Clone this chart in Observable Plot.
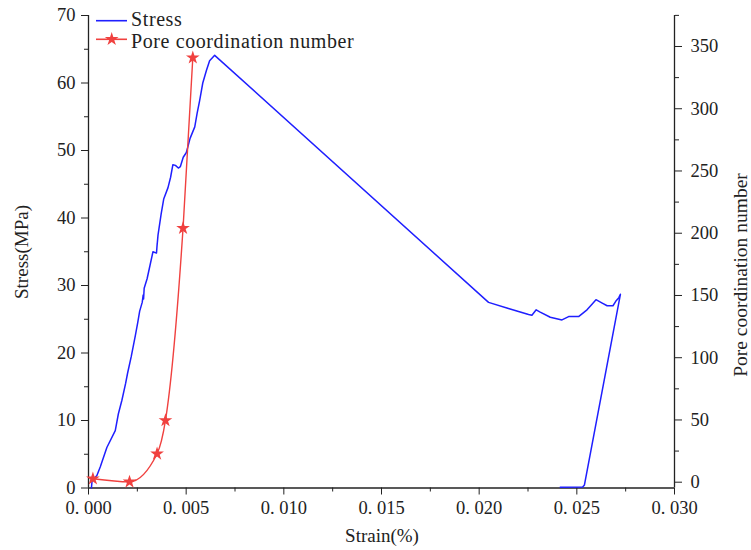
<!DOCTYPE html>
<html><head><meta charset="utf-8">
<script src="https://cdn.jsdelivr.net/npm/d3@7"></script>
<script src="https://cdn.jsdelivr.net/npm/@observablehq/plot@0.6"></script>
<style>
body{margin:0;background:#fff;}
#wrap{position:relative;width:751px;height:550px;font-family:"Liberation Serif","Times New Roman","DejaVu Serif",serif;color:#222;}
.lbl{position:absolute;white-space:nowrap;font-size:19px;}
</style></head><body><div id="wrap"></div>
<script>
// Stress–strain curve (blue)
const stressStrain = [0.00015,0.00018,0.00025,0.00043,0.00060,0.00094,0.00137,0.00153,0.00171,0.00190,0.00200,0.00219,0.00240,0.00252,0.00262,0.00275,0.00280,0.00282,0.00285,0.00300,0.00315,0.00330,0.00348,0.00352,0.00350,0.00356,0.00372,0.00385,0.00407,0.00420,0.00432,0.00445,0.00460,0.00470,0.00485,0.00501,0.00520,0.00544,0.00556,0.00569,0.00585,0.00604,0.00620,0.00646,0.02048,0.02150,0.02253,0.02270,0.02292,0.02310,0.02364,0.02424,0.02458,0.02509,0.02552,0.02580,0.02598,0.02630,0.02655,0.02685,0.02700,0.02715,0.02723,0.02539,0.02530,0.02415];
const stressValues = [0,1.0,1.3,1.85,3.1,6.0,8.5,11.0,13.0,15.5,17.0,19.5,22.6,24.5,26.2,27.5,28.6,28.0,29.6,31.0,33.0,35.0,34.8,36.3,35.6,37.5,40.6,42.8,44.5,46.0,47.9,47.8,47.4,47.6,49.0,49.7,51.8,53.5,55.5,57.4,60.0,61.9,63.3,64.1,27.5,26.6,25.7,25.6,26.4,26.1,25.3,24.9,25.4,25.4,26.4,27.3,27.9,27.4,27.0,27.0,27.7,28.2,28.7,0.45,0.15,0.1];
// Pore coordination number (red stars)
const poreStrain = [0.000225,0.00210,0.00351,0.00394,0.00484,0.00534];
const poreValues = [2.8,0.3,22.8,49.6,204,341];
// Tick values
const strainTicks = [0,0.005,0.010,0.015,0.020,0.025,0.030];
const strainMinor = [0.0025,0.0075,0.0125,0.0175,0.0225,0.0275];
const stressTicks = [0,10,20,30,40,50,60,70];
const stressMinor = [5,15,25,35,45,55,65];
const poreTicks = [0,50,100,150,200,250,300,350];
const poreMinor = [25,75,125,175,225,275,325,375];
const poreDomain = [-4.66,374.9];

const poreToY = v => (v - poreDomain[0]) / (poreDomain[1] - poreDomain[0]) * 70;
const yToPore = y => y / 70 * (poreDomain[1] - poreDomain[0]) + poreDomain[0];

const stressData = stressStrain.map((s,i)=>({strain:s, stress:stressValues[i]}));
const poreData = poreStrain.map((s,i)=>({strain:s, y:poreToY(poreValues[i])}));

const blue = "#1f1fff", red = "#f0413f", ink = "#222";
const serif = '"Liberation Serif", "Times New Roman", "DejaVu Serif", serif';

const chart = Plot.plot({
  width: 751, height: 550,
  marginLeft: 88, marginRight: 77, marginTop: 15, marginBottom: 62.5,
  x: {domain:[0,0.03]},
  y: {domain:[0,70]},
  style: {fontFamily: serif, fontSize:"18.5px", color:ink, background:"#fff"},
  marks: [
    Plot.axisX({ticks: strainTicks, tickSize:7, tickPadding:6, label:null,
      tickFormat: d => d3.format(".3f")(d).replace(".", ". ")}),
    Plot.axisX({ticks: strainMinor, tickSize:4, tickFormat: () => "", label:null}),
    Plot.axisY({ticks: stressTicks, tickSize:7, tickPadding:6, label:null}),
    Plot.axisY({ticks: stressMinor, tickSize:4, tickFormat: () => "", label:null}),
    Plot.axisY({anchor:"right", ticks: poreTicks.map(poreToY), tickSize:7, tickPadding:9, label:null,
      tickFormat: d => String(Math.round(yToPore(d)))}),
    Plot.axisY({anchor:"right", ticks: poreMinor.map(poreToY), tickSize:4, tickFormat: () => "", label:null}),
    Plot.ruleX([0, 0.03], {stroke: ink, strokeWidth: 1.3}),
    Plot.ruleY([0], {stroke: ink, strokeWidth: 1.3}),
    Plot.line(stressData, {x:"strain", y:"stress", stroke: blue, strokeWidth: 1.5}),
    Plot.line(poreData, {x:"strain", y:"y", stroke: red, strokeWidth: 1.4, curve:"monotone-x"}),
    Plot.dot(poreData, {x:"strain", y:"y", symbol:"star", fill: red, stroke:"none", r: 4.3})
  ]
});
const wrap = document.getElementById("wrap");
wrap.appendChild(chart);

// Axis titles
function addLabel(text, x, y, rot, size) {
  const d = document.createElement("div");
  d.className = "lbl";
  d.textContent = text;
  d.style.left = x + "px"; d.style.top = y + "px";
  d.style.fontSize = size + "px";
  d.style.transform = `translate(-50%,-50%) rotate(${rot}deg)`;
  wrap.appendChild(d);
}
addLabel("Stress(MPa)", 22, 252, -90, 19);
addLabel("Strain(%)", 382, 536, 0, 19);
addLabel("Pore coordination number", 741, 275, -90, 19.5);

// Legend
const leg = d3.select(wrap).append("svg")
  .attr("width", 320).attr("height", 56)
  .style("position","absolute").style("left","92px").style("top","0px")
  .style("font-family", serif).style("font-size","20px").style("letter-spacing","0.6px");
const items = [{name:"Stress", color:blue, star:false, ly:20.7, ty:25.5},{name:"Pore coordination number", color:red, star:true, ly:39.3, ty:48}];
items.forEach((it)=>{
  leg.append("line").attr("x1",4).attr("x2",35).attr("y1",it.ly).attr("y2",it.ly).attr("stroke",it.color).attr("stroke-width",1.6);
  if (it.star) leg.append("path").attr("d", d3.symbol(d3.symbolStar, 58)()).attr("transform",`translate(19.7,${it.ly})`).attr("fill",it.color);
  leg.append("text").attr("x",39).attr("y",it.ty).attr("fill",ink).text(it.name);
});
</script></body></html>
